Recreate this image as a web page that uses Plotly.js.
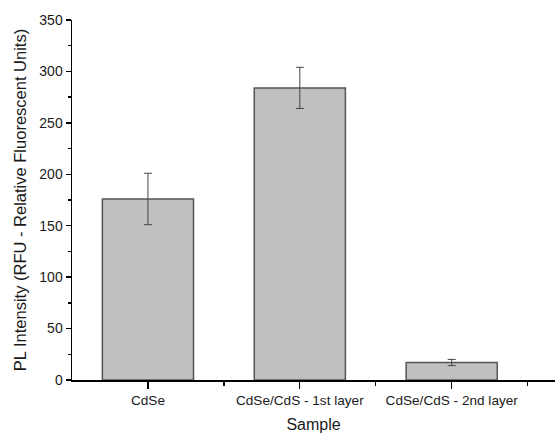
<!DOCTYPE html>
<html><head><meta charset="utf-8">
<script src="https://cdn.plot.ly/plotly-3.0.1.min.js"></script>
<style>html,body{margin:0;padding:0;background:#fff}#c{width:555px;height:434px}</style>
</head><body><div id="c"></div>
<script>
const categories = ["CdSe", "CdSe/CdS - 1st layer", "CdSe/CdS - 2nd layer"];
const values = [176, 284, 17];
const errors = [25, 20, 3];
const positions = categories.map((c, i) => i);

const trace = {
  type: "bar",
  x: positions,
  y: values,
  width: 0.6,
  marker: {color: "#c0c0c0", line: {color: "#555555", width: 1.5}},
  error_y: {type: "data", array: errors, visible: true, color: "#444444", thickness: 1, width: 4}
};

const layout = {
  width: 555, height: 434,
  margin: {l: 72, r: 0, t: 20, b: 54},
  paper_bgcolor: "#fff", plot_bgcolor: "#fff",
  font: {family: "Liberation Sans, Arial, sans-serif", color: "#1a1a1a", size: 13},
  showlegend: false,
  bargap: 0.4,
  xaxis: {
    range: [-0.5, 2.68],
    tickvals: positions, ticktext: categories,
    ticks: "outside", ticklen: 7, tickwidth: 1.3, tickcolor: "#000",
    minor: {tickvals: [0.5, 1.5, 2.5], ticks: "outside", ticklen: 4, tickwidth: 1.3, tickcolor: "#000"},
    showline: true, linecolor: "#000", linewidth: 1.5,
    showgrid: false, zeroline: false,
    tickfont: {size: 13.6, color: "#1a1a1a"},
    title: {text: "Sample", font: {size: 16, color: "#1a1a1a"}, standoff: 12},
    fixedrange: true
  },
  yaxis: {
    range: [0, 350],
    tickvals: [0, 50, 100, 150, 200, 250, 300, 350],
    ticks: "outside", ticklen: 5, tickwidth: 1.3, tickcolor: "#000",
    minor: {tickvals: [25, 75, 125, 175, 225, 275, 325], ticks: "outside", ticklen: 3, tickwidth: 1.3, tickcolor: "#000"},
    showline: true, linecolor: "#000", linewidth: 1.5,
    showgrid: false, zeroline: false,
    tickfont: {size: 14, color: "#1a1a1a"},
    title: {text: "PL Intensity (RFU - Relative Fluorescent Units)", font: {size: 16.5, color: "#1a1a1a"}, standoff: 8},
    fixedrange: true
  }
};

Plotly.newPlot("c", [trace], layout, {displayModeBar: false, staticPlot: true});
</script></body></html>
